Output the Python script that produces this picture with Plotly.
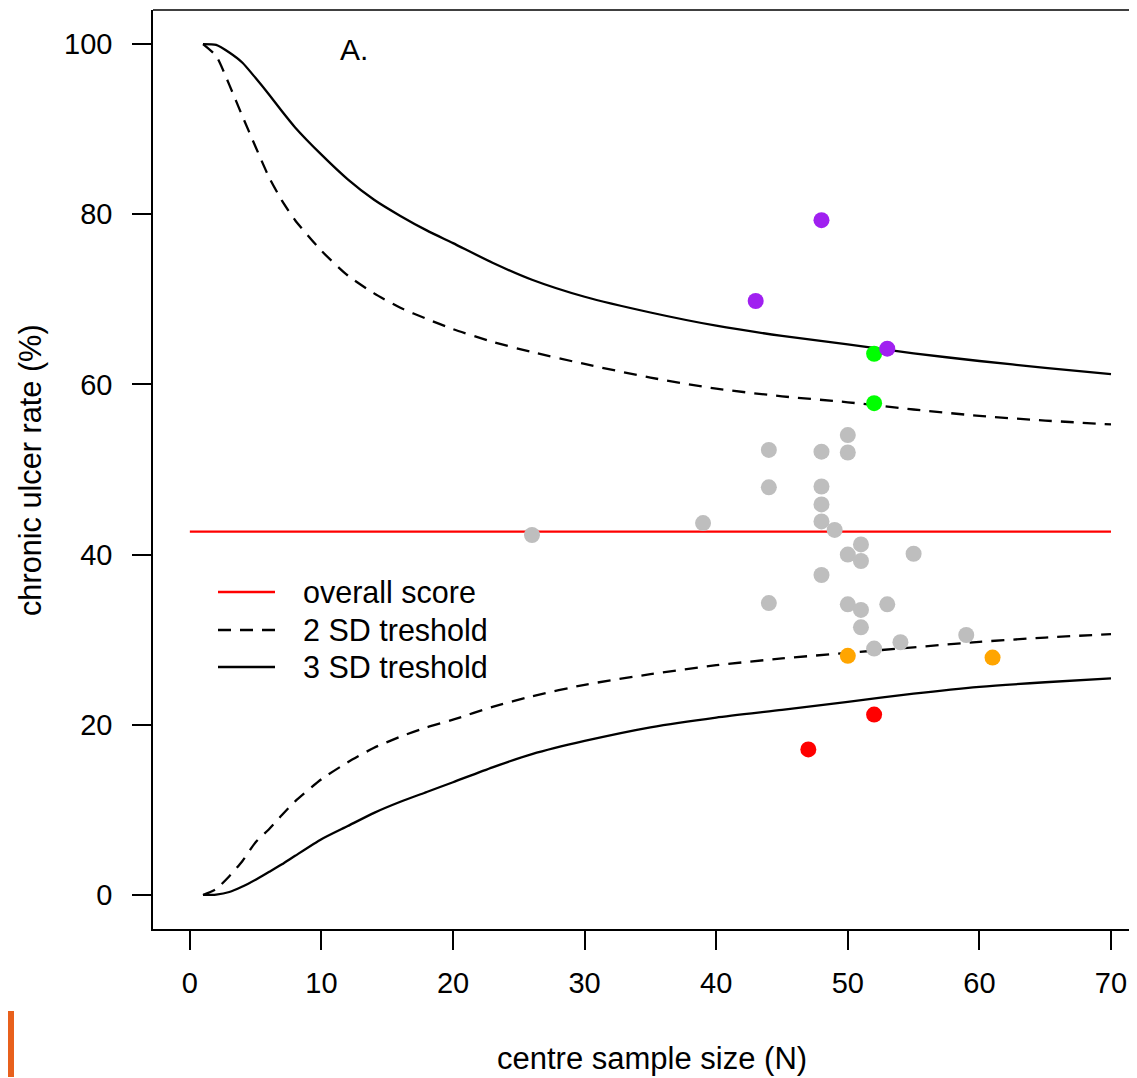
import plotly.graph_objects as go

# ---- data ----
n_grid = [1, 2, 3, 4, 5, 6, 7, 8, 10, 12, 14, 16, 18, 20, 23, 26, 30, 35, 40, 45, 50, 55, 60, 65, 70]
upper_3sd = [100, 99.9, 99.0, 97.8, 96.0, 94.1, 92.1, 90.2, 87.0, 84.1, 81.7, 79.8, 78.1, 76.6, 74.3, 72.3, 70.3, 68.45, 66.9, 65.7, 64.7, 63.65, 62.75, 61.95, 61.2]
upper_2sd = [100, 98.6, 95.2, 91.5, 87.9, 84.4, 81.6, 79.3, 75.7, 72.8, 70.7, 69.0, 67.7, 66.5, 65.0, 63.8, 62.4, 60.8, 59.5, 58.6, 57.9, 57.05, 56.3, 55.75, 55.3]
lower_2sd = [0, 0.7, 2.2, 4.0, 6.2, 7.7, 9.4, 11.0, 13.6, 15.6, 17.3, 18.6, 19.7, 20.6, 22.1, 23.35, 24.7, 25.95, 27.0, 27.8, 28.45, 29.1, 29.75, 30.25, 30.65]
lower_3sd = [0, 0.05, 0.35, 1.0, 1.8, 2.7, 3.6, 4.6, 6.55, 8.1, 9.65, 10.95, 12.1, 13.25, 15.0, 16.55, 18.1, 19.7, 20.85, 21.75, 22.7, 23.65, 24.45, 25.0, 25.45]

overall_x = [0, 70]
overall_y = [42.7, 42.7]

gray_n = [26, 39, 44, 44, 44, 48, 48, 48, 48, 48, 49, 50, 50, 50, 50, 51, 51, 51, 51, 52, 53, 54, 55, 59]
gray_rate = [42.3, 43.7, 52.3, 47.9, 34.3, 52.1, 48.0, 45.9, 43.9, 37.6, 42.9, 54.05, 52.0, 40.0, 34.15, 41.2, 39.25, 33.5, 31.45, 28.95, 34.15, 29.7, 40.1, 30.55]
orange_n = [50, 61]
orange_rate = [28.1, 27.9]
red_n = [47, 52]
red_rate = [17.1, 21.2]
green_n = [52, 52]
green_rate = [63.6, 57.8]
purple_n = [43, 48, 53]
purple_rate = [69.8, 79.3, 64.2]

x_ticks = [0, 10, 20, 30, 40, 50, 60, 70]
y_ticks = [0, 20, 40, 60, 80, 100]
legend_labels = ["overall score", "2 SD treshold", "3 SD treshold"]

FONT = "Liberation Sans, Arial, sans-serif"
BODY = 8  # default page margin around the plot div
W, H = 1137 - BODY, 1078 - BODY
ML, MR, MT, MB = 153 - BODY, 0, 10 - BODY, 1078 - 929
PW, PH = W - ML - MR, H - MT - MB


def px(xp):
    # page pixel x -> paper coordinate
    return (xp - BODY - ML) / PW


def py(yp):
    # page pixel y -> paper coordinate
    return (H - MB - (yp - BODY)) / PH


fig = go.Figure()
DASH = "13px,9px"
for ys, dash in [(upper_3sd, "solid"), (upper_2sd, DASH), (lower_2sd, DASH), (lower_3sd, "solid")]:
    fig.add_trace(go.Scatter(x=n_grid, y=ys, mode="lines",
                             line=dict(color="black", width=2.3, dash=dash, shape="spline", smoothing=0.6),
                             hoverinfo="skip", showlegend=False))

fig.add_trace(go.Scatter(x=overall_x, y=overall_y, mode="lines",
                         line=dict(color="#FF0000", width=2.3), showlegend=False))

for xs, ys, col in [(gray_n, gray_rate, "#BEBEBE"), (orange_n, orange_rate, "#FFA500"),
                    (red_n, red_rate, "#FF0000"), (green_n, green_rate, "#00FF00"),
                    (purple_n, purple_rate, "#A020F0")]:
    fig.add_trace(go.Scatter(x=xs, y=ys, mode="markers",
                             marker=dict(color=col, size=16, line=dict(width=0)),
                             showlegend=False))

shapes = []
# top border of the box
shapes.append(dict(type="line", xref="paper", yref="paper", x0=0, x1=1, y0=1, y1=1,
                   line=dict(color="black", width=1.5)))
# manual legend samples
leg_y = [592, 630, 667]
leg_styles = [("#FF0000", "solid"), ("black", DASH), ("black", "solid")]
annotations = []
for yy, (col, dsh), lab in zip(leg_y, leg_styles, legend_labels):
    shapes.append(dict(type="line", xref="paper", yref="paper", x0=px(218), x1=px(275),
                       y0=py(yy), y1=py(yy), line=dict(color=col, width=2.3, dash=dsh)))
    annotations.append(dict(text=lab, xref="paper", yref="paper", x=px(301), y=py(yy),
                            xanchor="left", yanchor="middle", showarrow=False,
                            font=dict(family=FONT, size=30.5, color="black")))
# orange strip near the bottom-left edge of the reference image
shapes.append(dict(type="rect", xref="paper", yref="paper", x0=px(8), x1=px(14),
                   y0=py(1077), y1=py(1011), line=dict(width=0), fillcolor="#E8601C"))

annotations.append(dict(text="A.", xref="paper", yref="paper", x=px(354), y=py(49),
                        xanchor="center", yanchor="middle", showarrow=False,
                        font=dict(family=FONT, size=30, color="black")))
annotations.append(dict(text="centre sample size (N)", xref="paper", yref="paper",
                        x=px(652), y=py(1058), xanchor="center", yanchor="middle",
                        showarrow=False, font=dict(family=FONT, size=31, color="black")))
annotations.append(dict(text="chronic ulcer rate (%)", xref="paper", yref="paper",
                        x=px(30), y=py(470), xanchor="center", yanchor="middle", textangle=-90,
                        showarrow=False, font=dict(family=FONT, size=30.7, color="black")))

fig.update_layout(
    width=W, height=H, margin=dict(l=ML, r=MR, t=MT, b=MB),
    paper_bgcolor="white", plot_bgcolor="white",
    shapes=shapes, annotations=annotations,
    font=dict(family=FONT, size=29, color="black"),
)
fig.update_xaxes(range=[-2.8, (1137 - 190) / 13.157], tickvals=x_ticks, ticks="outside", ticklen=19,
                 tickwidth=1.5, tickcolor="black", showline=True, linecolor="black", linewidth=1.5,
                 showgrid=False, zeroline=False, tickfont=dict(family=FONT, size=29),
                 ticklabelstandoff=8)
fig.update_yaxes(range=[-4, 104], tickvals=y_ticks, ticks="outside", ticklen=19,
                 tickwidth=1.5, tickcolor="black", showline=True, linecolor="black", linewidth=1.5,
                 showgrid=False, zeroline=False, tickfont=dict(family=FONT, size=29),
                 ticklabelstandoff=14)

fig.write_html("out.html")
